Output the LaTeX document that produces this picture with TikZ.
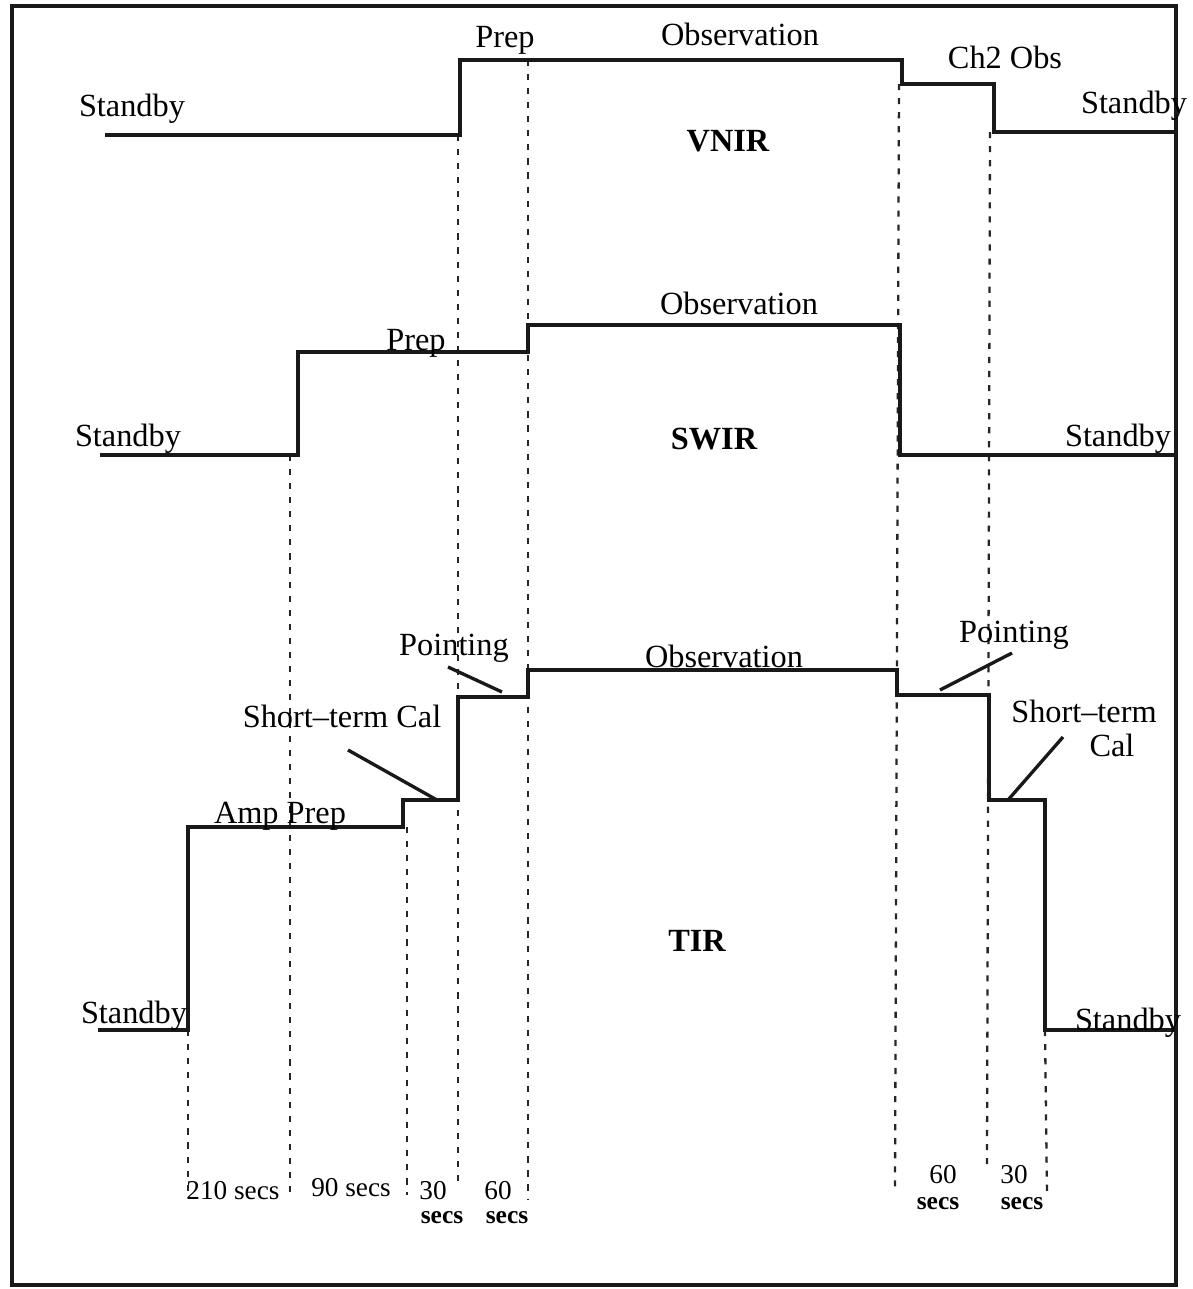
\documentclass[tikz,border=0pt]{standalone}
\usepackage{fontspec}
\setmainfont{Liberation Serif}
\usetikzlibrary{positioning}

\begin{document}
\begin{tikzpicture}[
  x=0.02cm, y=-0.02cm,
  font=\fontsize{18.4}{20}\selectfont,
  trace/.style={
    draw=black!90,
    line width=1.9pt,
    line join=miter
  },
  guide/.style={
    draw=black!85,
    line width=1.3pt,
    dash pattern=on 3.5pt off 4.5pt
  },
  lab/.style={
    anchor=base,
    inner sep=0pt
  },
  ttl/.style={
    lab,
    font=\fontsize{18.4}{20}\selectfont\bfseries
  },
  dur/.style={
    lab,
    font=\fontsize{15.5}{17}\selectfont
  },
  durs/.style={
    lab,
    font=\fontsize{14.5}{16}\selectfont\bfseries
  },
  lead/.style={
    draw=black!90,
    line width=1.9pt
  }
]
\useasboundingbox (0,0) rectangle (1193,1289);

% Frame
\draw[line width=2.4pt, black!90] (12,6) rectangle (1176,1285);

% Time marks
\draw[guide] (188,1030) -- (188,1192);
\draw[guide] (290,455)  -- (290,1195);
\draw[guide] (407,827)  -- (407,1195);
\draw[guide] (458,135)  -- (458,1188);
\draw[guide] (528,60)   -- (528,1200);
\draw[guide] (899,84)   -- (895,1187);
\draw[guide] (990,132)  -- (987,1165);
\draw[guide] (1045,1030) -- (1047,1195);

% VNIR trace
\draw[trace] (105,135) -- (460,135) -- (460,60) -- (902,60) -- (902,84)
  -- (994,84) -- (994,132) -- (1176,132);
\node[lab] (vsbl) at (132,116) {Standby};
\node[lab] (vprep) at (505,47) {Prep};
\node[lab] (vobs) at (740,45) {Observation};
\node[lab] (vch2) at (1005,68) {Ch2 Obs};
\node[lab] (vsbr) at (1134,113) {Standby};
\node[ttl] (vnir) at (728,151) {VNIR};

% SWIR trace
\draw[trace] (100,455) -- (298,455) -- (298,352) -- (528,352) -- (528,325)
  -- (900,325) -- (900,455) -- (1176,455);
\node[lab] (ssbl) at (128,446) {Standby};
\node[lab] (sprep) at (416,350) {Prep};
\node[lab] (sobs) at (739,314) {Observation};
\node[ttl] (swir) at (714,449) {SWIR};
\node[lab] (ssbr) at (1118,446) {Standby};

% TIR trace
\draw[trace] (98,1030) -- (188,1030) -- (188,827) -- (403,827) -- (403,800)
  -- (458,800) -- (458,697) -- (528,697) -- (528,670) -- (897,670)
  -- (897,695) -- (989,695) -- (989,800) -- (1045,800) -- (1045,1030)
  -- (1176,1030);
\node[lab] (tsbl) at (134,1023) {Standby};
\node[lab] (tamp) at (280,823) {Amp Prep};
\node[lab] (tcall) at (342,727) {Short--term Cal};
\node[lab] (tpntl) at (454,655) {Pointing};
\node[lab] (tobs) at (724,667) {Observation};
\node[ttl] (tir) at (697,951) {TIR};
\node[lab] (tpntr) at (1014,642) {Pointing};
\node[lab] (tcalr) at (1084,722) {Short--term};
\node[lab] (tcalr2) at (1112,756) {Cal};
\node[lab] (tsbr) at (1128,1030) {Standby};

% Leaders
\coordinate (cl1) at (348,750);
\coordinate (cl2) at (437,800);
\coordinate (pl1) at (448,667);
\coordinate (pl2) at (502,692);
\coordinate (pr1) at (1012,653);
\coordinate (pr2) at (940,690);
\coordinate (cr1) at (1063,737);
\coordinate (cr2) at (1008,800);
\draw[lead] (cl1) -- (cl2);
\draw[lead] (pl1) -- (pl2);
\draw[lead] (pr1) -- (pr2);
\draw[lead] (cr1) -- (cr2);

% Durations
\node[dur] (d210) at (233,1199) {210 secs};
\node[dur] (d90) at (351,1196) {90 secs};
\node[dur] (d30a) at (433,1199) {30};
\node[durs] (s30a) at (442,1223) {secs};
\node[dur] (d60a) at (498,1199) {60};
\node[durs] (s60a) at (507,1223) {secs};
\node[dur] (d60b) at (943,1183) {60};
\node[durs] (s60b) at (938,1209) {secs};
\node[dur] (d30b) at (1014,1183) {30};
\node[durs] (s30b) at (1022,1209) {secs};

\end{tikzpicture}
\end{document}
